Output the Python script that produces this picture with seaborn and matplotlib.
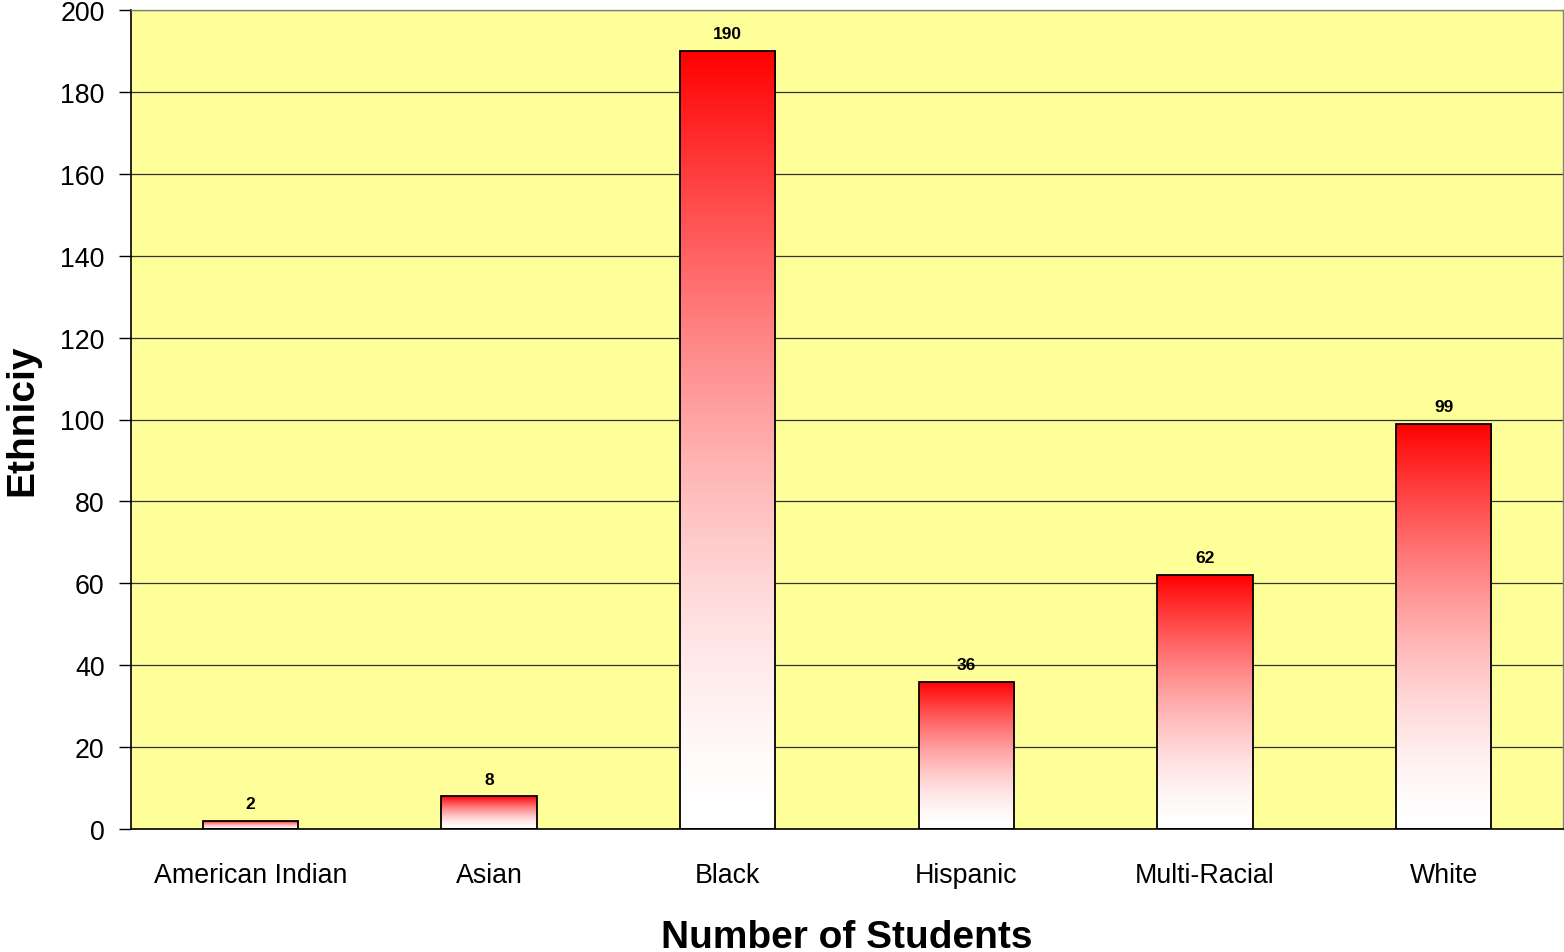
import matplotlib.pyplot as plt
import seaborn as sns
import numpy as np
import pandas as pd


# data
categories = ['American Indian', 'Asian', 'Black', 'Hispanic', 'Multi-Racial', 'White']
students = [2, 8, 190, 36, 62, 99]
y_ticks = [0, 20, 40, 60, 80, 100, 120, 140, 160, 180, 200]


# bar chart with red to white gradient fill in every bar
def plot_barplot_gradient(df_plot):
    """Visualization method to display column chart of number of students by ethnicity.

    Parameters
    ----------
        df_plot : DataFrame
            DataFrame with columns 'Ethnicity' and 'Students'.
    """
    sns.set_style('white')
    plt.rcParams['font.family'] = ['Liberation Sans', 'DejaVu Sans']
    plt.rcParams['text.color'] = 'black'
    plt.rcParams['axes.labelcolor'] = 'black'
    plt.rcParams['xtick.color'] = 'black'
    plt.rcParams['ytick.color'] = 'black'

    fig = plt.figure(figsize = (15.64, 9.53), dpi = 100)
    ax = fig.add_axes([131 / 1564, 1 - 830 / 953, (1563 - 131) / 1564, (830 - 11) / 953])
    ax.set_facecolor('#FFFF99')

    sns.barplot(x = 'Ethnicity', y = 'Students', data = df_plot, width = 0.4,
                color = 'white', edgecolor = 'black', linewidth = 1.3, ax = ax, zorder = 3)

    # gradient, red on top, white at the bottom
    t = 1 - (1 - np.linspace(0, 1, 256)) ** 1.6
    grad = np.ones((256, 1, 3))
    grad[:, 0, 1] = t
    grad[:, 0, 2] = t
    for p in ax.patches:
        x0, w, h = p.get_x(), p.get_width(), p.get_height()
        im = ax.imshow(grad, extent = [x0, x0 + w, 0, h], origin = 'upper',
                       aspect = 'auto', zorder = 2.5, interpolation = 'bilinear')
        im.set_clip_path(p)
        p.set_facecolor('none')
        ax.annotate('{:d}'.format(int(h)), (x0 + w / 2, h), xytext = (0, 7),
                    textcoords = 'offset points', ha = 'center', va = 'bottom',
                    fontsize = 12.5, fontweight = 'bold', zorder = 4)

    ax.set_xlim(-0.5, len(df_plot) - 0.5)
    ax.set_ylim(0, 200)
    ax.set_yticks(y_ticks)
    ax.yaxis.grid(True, color = '#333333', linewidth = 0.9)
    ax.set_axisbelow(True)

    ax.set_xticks(np.arange(-0.5, len(df_plot), 1), minor = True)
    ax.tick_params(axis = 'x', which = 'major', length = 0, pad = 24, labelsize = 19.3)
    ax.tick_params(axis = 'x', which = 'minor', length = 9, width = 1, direction = 'out')
    ax.tick_params(axis = 'y', length = 9, width = 1, direction = 'out',
                   pad = 10, labelsize = 19.3, left = True)

    for side in ['left', 'bottom']:
        ax.spines[side].set_color('black')
        ax.spines[side].set_linewidth(1.2)
    for side in ['top', 'right']:
        ax.spines[side].set_visible(True)
        ax.spines[side].set_color('#808080')
        ax.spines[side].set_linewidth(1)

    ax.set_xlabel('Number of Students', fontsize = 28, fontweight = 'bold', labelpad = 22)
    ax.set_ylabel('Ethniciy', fontsize = 28, fontweight = 'bold')
    ax.yaxis.set_label_coords(-0.063, 0.5)

    plt.savefig('out.png', dpi = 100)


df = pd.DataFrame({'Ethnicity': categories, 'Students': students})
plot_barplot_gradient(df)
